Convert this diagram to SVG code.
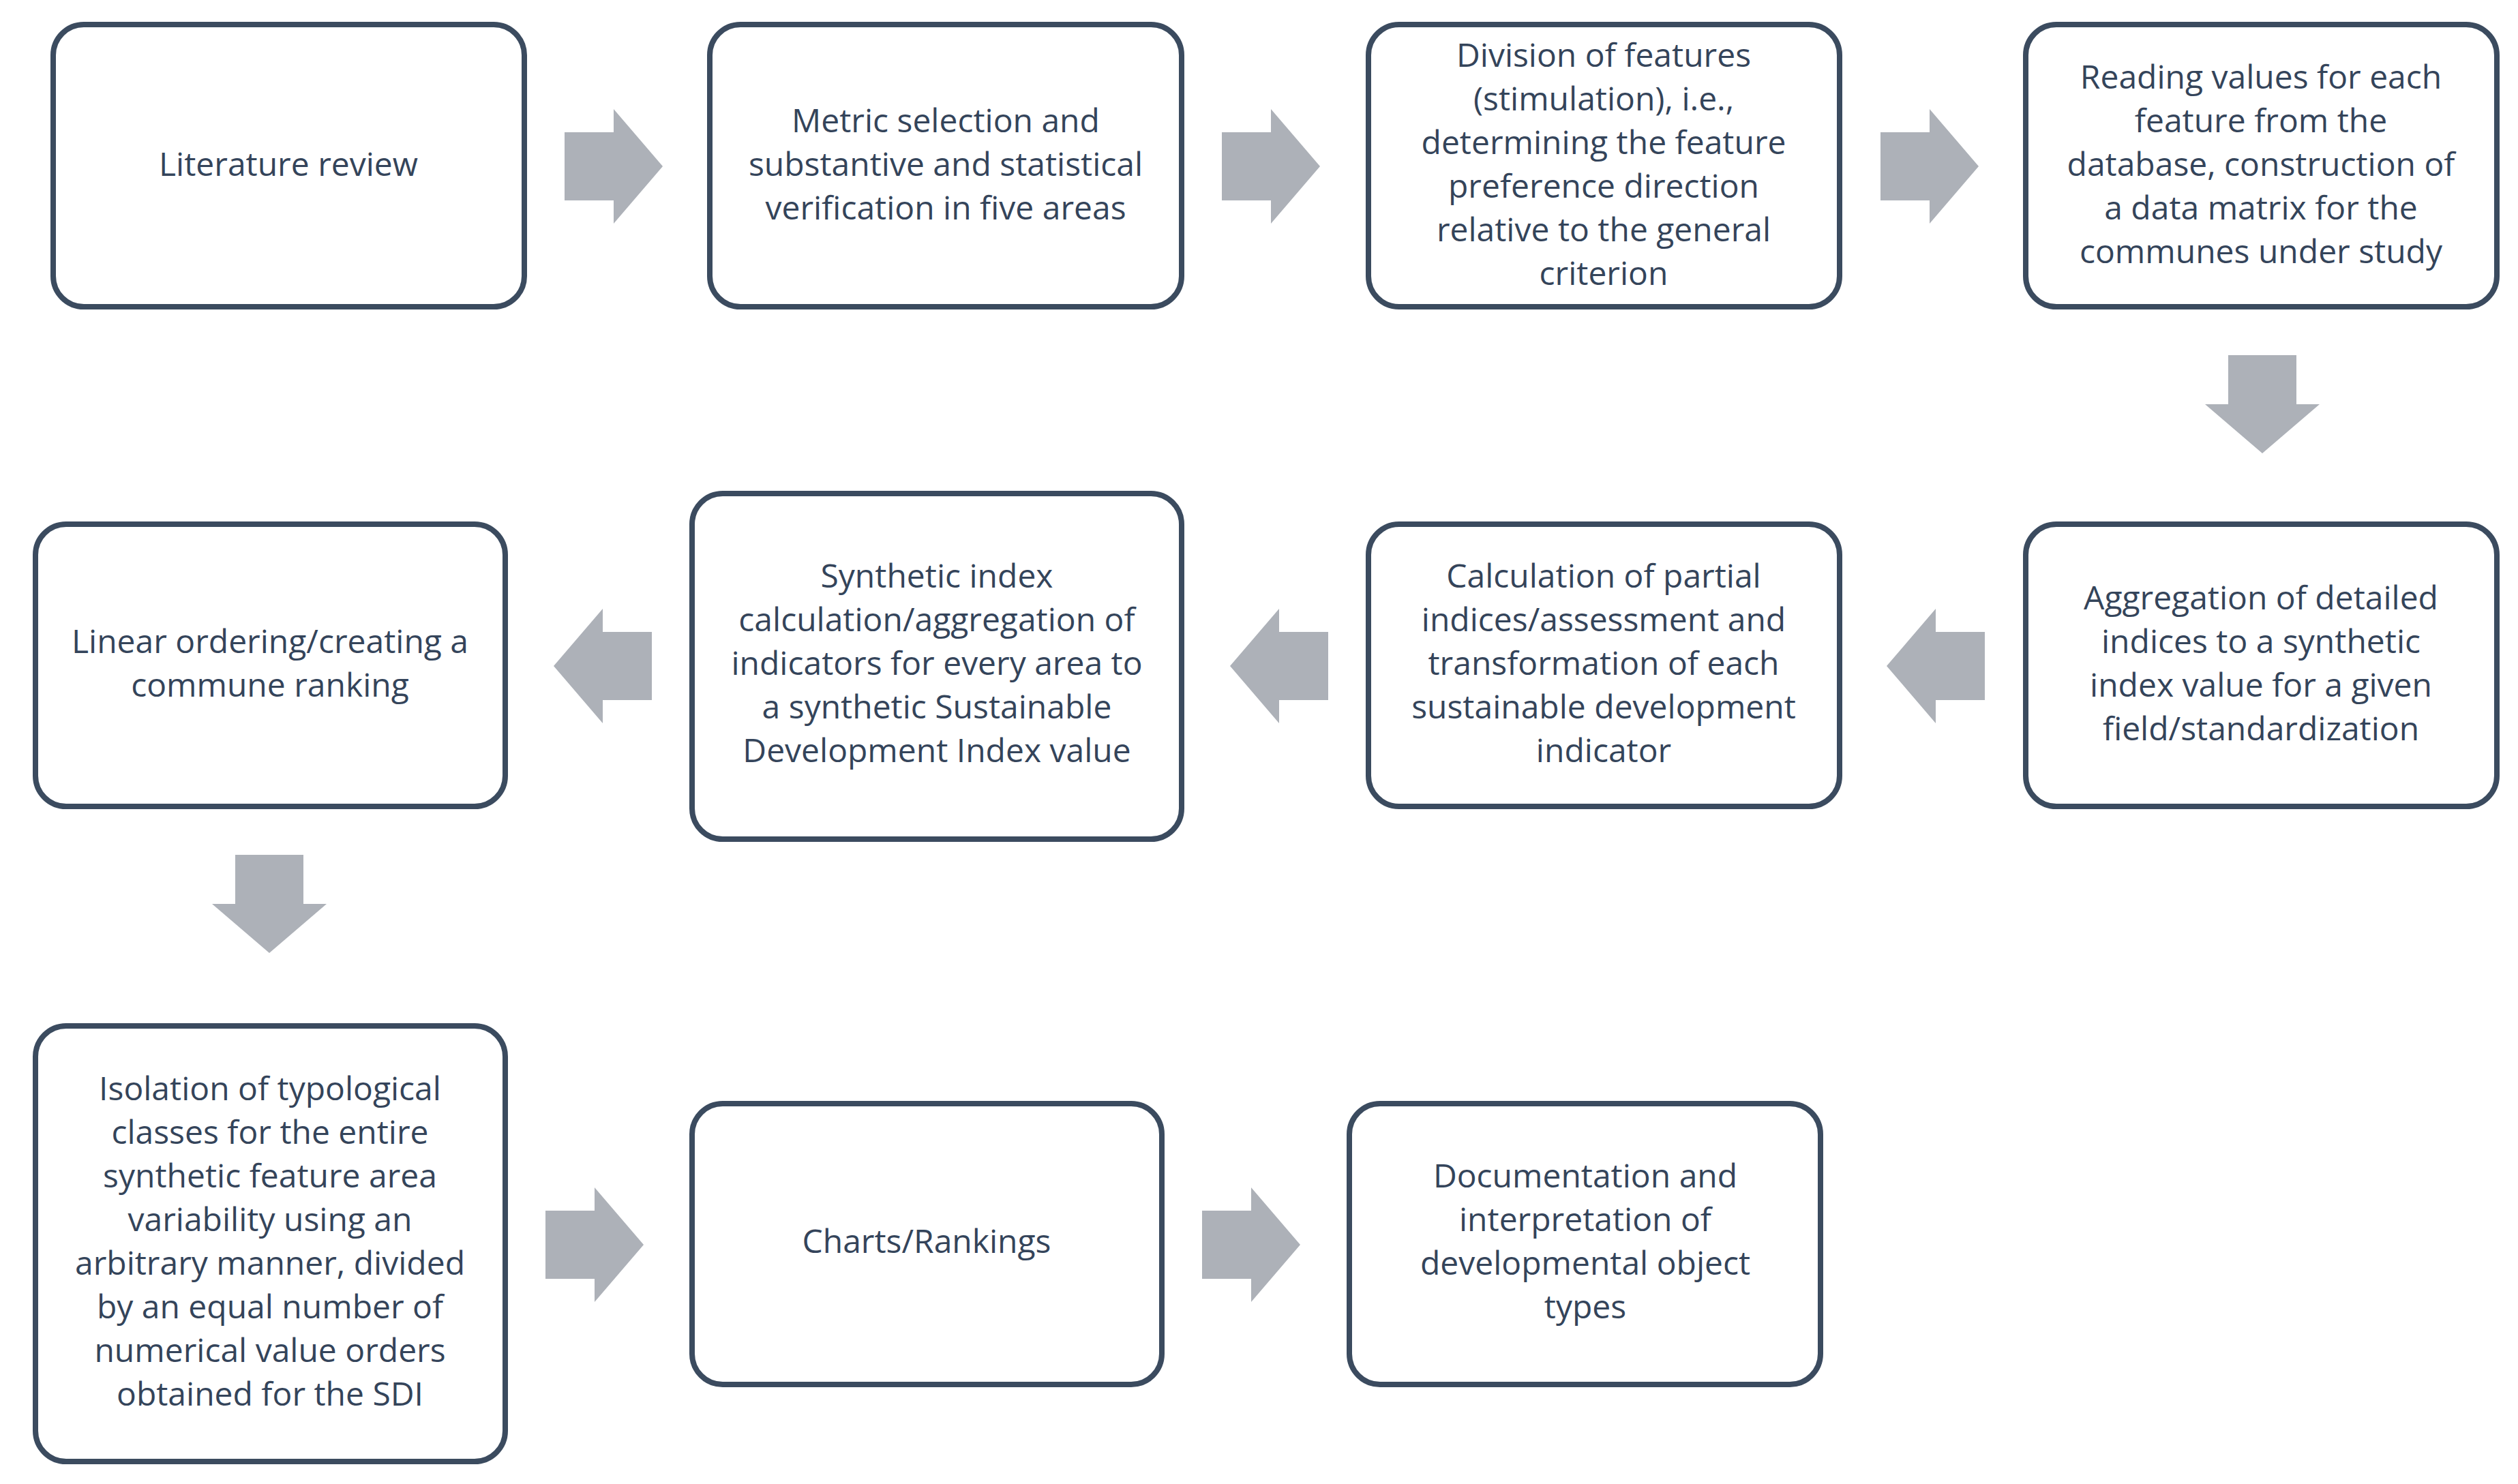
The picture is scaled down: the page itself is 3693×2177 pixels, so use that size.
<svg xmlns="http://www.w3.org/2000/svg" width="3693" height="2177" viewBox="0 0 3693 2177">
<style>
.b{fill:#fff;stroke:#3b4b5f;stroke-width:8}
.t{font-family:"Open Sans","Liberation Sans",sans-serif;font-size:48px;fill:#34445a;text-anchor:middle}
.a{fill:#adb1b8}
</style>
<defs>
<path id="ar" d="M0,-50 H72 V-84 L144,0 L72,84 V50 H0 Z"/>
</defs>
<rect width="3693" height="2177" fill="#fff"/>
<g id="connectors">
<use href="#ar" class="a" transform="translate(828,244)"/>
<use href="#ar" class="a" transform="translate(1792,244)"/>
<use href="#ar" class="a" transform="translate(2758,244)"/>
<use href="#ar" class="a" transform="translate(3318,521) rotate(90)"/>
<use href="#ar" class="a" transform="translate(2911,977) rotate(180)"/>
<use href="#ar" class="a" transform="translate(1948,977) rotate(180)"/>
<use href="#ar" class="a" transform="translate(956,977) rotate(180)"/>
<use href="#ar" class="a" transform="translate(395,1254) rotate(90)"/>
<use href="#ar" class="a" transform="translate(800,1826)"/>
<use href="#ar" class="a" transform="translate(1763,1826)"/>
</g>
<g id="n1"><rect class="b" x="78" y="36" width="691" height="414" rx="45"/>
<text class="t" x="423" y="258">Literature review</text></g>
<g id="n2"><rect class="b" x="1041" y="36" width="692" height="414" rx="45"/>
<text class="t" x="1387" y="194">Metric selection and</text>
<text class="t" x="1387" y="258">substantive and statistical</text>
<text class="t" x="1387" y="322">verification in five areas</text></g>
<g id="n3"><rect class="b" x="2007" y="36" width="691" height="414" rx="45"/>
<text class="t" x="2352" y="98">Division of features</text>
<text class="t" x="2352" y="162">(stimulation), i.e.,</text>
<text class="t" x="2352" y="226">determining the feature</text>
<text class="t" x="2352" y="290">preference direction</text>
<text class="t" x="2352" y="354">relative to the general</text>
<text class="t" x="2352" y="418">criterion</text></g>
<g id="n4"><rect class="b" x="2971" y="36" width="691" height="414" rx="45"/>
<text class="t" x="3316" y="130">Reading values for each</text>
<text class="t" x="3316" y="194">feature from the</text>
<text class="t" x="3316" y="258">database, construction of</text>
<text class="t" x="3316" y="322">a data matrix for the</text>
<text class="t" x="3316" y="386">communes under study</text></g>
<g id="n5"><rect class="b" x="2971" y="769" width="691" height="414" rx="45"/>
<text class="t" x="3316" y="894">Aggregation of detailed</text>
<text class="t" x="3316" y="958">indices to a synthetic</text>
<text class="t" x="3316" y="1022">index value for a given</text>
<text class="t" x="3316" y="1086">field/standardization</text></g>
<g id="n6"><rect class="b" x="2007" y="769" width="691" height="414" rx="45"/>
<text class="t" x="2352" y="862">Calculation of partial</text>
<text class="t" x="2352" y="926">indices/assessment and</text>
<text class="t" x="2352" y="990">transformation of each</text>
<text class="t" x="2352" y="1054">sustainable development</text>
<text class="t" x="2352" y="1118">indicator</text></g>
<g id="n7"><rect class="b" x="1015" y="724" width="718" height="507" rx="45"/>
<text class="t" x="1374" y="862">Synthetic index</text>
<text class="t" x="1374" y="926">calculation/aggregation of</text>
<text class="t" x="1374" y="990">indicators for every area to</text>
<text class="t" x="1374" y="1054">a synthetic Sustainable</text>
<text class="t" x="1374" y="1118">Development Index value</text></g>
<g id="n8"><rect class="b" x="52" y="769" width="689" height="414" rx="45"/>
<text class="t" x="396" y="958">Linear ordering/creating a</text>
<text class="t" x="396" y="1022">commune ranking</text></g>
<g id="n9"><rect class="b" x="52" y="1505" width="689" height="639" rx="45"/>
<text class="t" x="396" y="1614">Isolation of typological</text>
<text class="t" x="396" y="1678">classes for the entire</text>
<text class="t" x="396" y="1742">synthetic feature area</text>
<text class="t" x="396" y="1806">variability using an</text>
<text class="t" x="396" y="1870">arbitrary manner, divided</text>
<text class="t" x="396" y="1934">by an equal number of</text>
<text class="t" x="396" y="1998">numerical value orders</text>
<text class="t" x="396" y="2062">obtained for the SDI</text></g>
<g id="n10"><rect class="b" x="1015" y="1619" width="689" height="412" rx="45"/>
<text class="t" x="1359" y="1838">Charts/Rankings</text></g>
<g id="n11"><rect class="b" x="1979" y="1619" width="691" height="412" rx="45"/>
<text class="t" x="2325" y="1742">Documentation and</text>
<text class="t" x="2325" y="1806">interpretation of</text>
<text class="t" x="2325" y="1870">developmental object</text>
<text class="t" x="2325" y="1934">types</text></g>
</svg>
